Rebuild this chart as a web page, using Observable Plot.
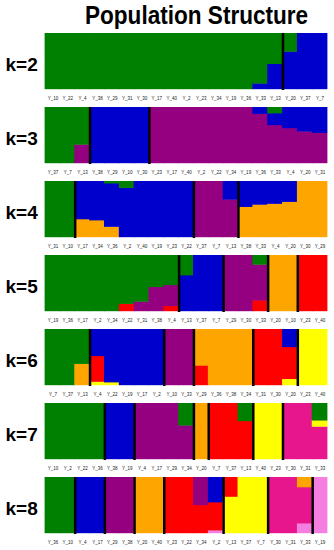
<!DOCTYPE html>
<html><head><meta charset="utf-8">
<script src="https://cdn.jsdelivr.net/npm/d3@7"></script>
<script src="https://cdn.jsdelivr.net/npm/@observablehq/plot@0.6"></script>
<style>
body{margin:0;background:#fff;width:334px;overflow:hidden}
#title{position:relative;height:33px}
#title span{position:absolute;left:85px;top:3.4px;font:bold 25.5px/25.5px "Liberation Sans",Arial,sans-serif;transform:scaleX(0.885);transform-origin:0 0;white-space:nowrap;color:#000}
#chart svg{display:block}
</style></head><body>
<div id="title"><span>Population Structure</span></div>
<div id="chart"></div>
<script>
const clusterColors = ["#008000", "#0000cc", "#940080", "#ffa500", "#ff0000", "#ffff00", "#e8168c", "#f47fe0"];

const ids2 = ["Y_10","Y_22","Y_4","Y_38","Y_29","Y_31","Y_30","Y_17","Y_40","Y_2","Y_23","Y_34","Y_19","Y_36","Y_33","Y_13","Y_20","Y_37","Y_7"];
const ids3 = ["Y_37","Y_7","Y_13","Y_38","Y_29","Y_10","Y_30","Y_23","Y_17","Y_40","Y_2","Y_22","Y_34","Y_19","Y_36","Y_33","Y_4","Y_20","Y_31"];
const ids4 = ["Y_31","Y_10","Y_17","Y_34","Y_36","Y_2","Y_40","Y_19","Y_23","Y_22","Y_37","Y_7","Y_13","Y_38","Y_33","Y_4","Y_20","Y_30","Y_29"];
const ids5 = ["Y_19","Y_36","Y_17","Y_2","Y_34","Y_22","Y_31","Y_38","Y_4","Y_13","Y_37","Y_7","Y_29","Y_30","Y_33","Y_20","Y_10","Y_23","Y_40"];
const ids6 = ["Y_7","Y_37","Y_13","Y_4","Y_22","Y_19","Y_17","Y_2","Y_10","Y_33","Y_29","Y_36","Y_38","Y_34","Y_31","Y_30","Y_20","Y_23","Y_40"];
const ids7 = ["Y_10","Y_2","Y_22","Y_36","Y_38","Y_19","Y_4","Y_17","Y_29","Y_34","Y_20","Y_7","Y_37","Y_13","Y_40","Y_23","Y_30","Y_31","Y_33"];
const ids8 = ["Y_36","Y_10","Y_4","Y_17","Y_29","Y_38","Y_20","Y_40","Y_23","Y_22","Y_34","Y_2","Y_13","Y_37","Y_7","Y_30","Y_31","Y_33","Y_19"];

// membership proportions per individual, clusters in order 1..k
const q2 = [[1,0],[1,0],[1,0],[1,0],[1,0],[1,0],[1,0],[1,0],[1,0],[1,0],[1,0],[1,0],[1,0],[1,0],
  [0.9,0.1],[0.55,0.45],[0.33,0.67],[0,1],[0,1]];
const q3 = [[1,0,0],[1,0,0],[0.67,0,0.33],[0,1,0],[0,1,0],[0,1,0],[0,1,0],
  [0,0,1],[0,0,1],[0,0,1],[0,0,1],[0,0,1],[0,0,1],[0,0,1],
  [0,0.12,0.88],[0.11,0.21,0.68],[0,0.375,0.625],[0,0.435,0.565],[0,0.46,0.54]];
const q4 = [[1,0,0,0],[1,0,0,0],[0,0.68,0,0.32],[0,0.7,0,0.3],[0.04,0.775,0,0.185],[0.12,0.88,0,0],
  [0,1,0,0],[0,1,0,0],[0,1,0,0],[0,1,0,0],[0,0,1,0],[0,0,1,0],[0,0.33,0.67,0],
  [0,0.46,0,0.54],[0,0.42,0,0.58],[0,0.405,0,0.595],[0,0.37,0,0.63],[0,0,0,1],[0,0,0,1]];
const q5 = [[1,0,0,0,0],[1,0,0,0,0],[1,0,0,0,0],[1,0,0,0,0],[1,0,0,0,0],[0.87,0,0,0,0.13],
  [0.83,0,0.17,0,0],[0.57,0,0.43,0,0],[0.535,0,0.375,0,0.09],[0.36,0.64,0,0,0],
  [0,1,0,0,0],[0,1,0,0,0],[0,0,1,0,0],[0,0,1,0,0],[0.17,0,0.64,0,0.19],
  [0,0,0,1,0],[0,0,0,1,0],[0,0,0,0,1],[0,0,0,0,1]];
const q6 = [[1,0,0,0,0,0],[1,0,0,0,0,0],[0.62,0,0,0.38,0,0],[0,0.48,0,0,0.46,0.06],[0,0.95,0,0,0,0.05],
  [0,1,0,0,0,0],[0,1,0,0,0,0],[0,1,0,0,0,0],[0,0,1,0,0,0],[0,0,1,0,0,0],
  [0,0,0,0.65,0.35,0],[0,0,0,1,0,0],[0,0,0,1,0,0],[0,0,0,1,0,0],
  [0,0,0,0,1,0],[0,0,0,0,1,0],[0,0.32,0,0,0.57,0.11],[0,0,0,0,0,1],[0,0,0,0,0,1]];
const q7 = [[1,0,0,0,0,0,0],[1,0,0,0,0,0,0],[1,0,0,0,0,0,0],[1,0,0,0,0,0,0],
  [0,1,0,0,0,0,0],[0,1,0,0,0,0,0],[0,0,1,0,0,0,0],[0,0,1,0,0,0,0],[0,0,1,0,0,0,0],[0.4,0,0.6,0,0,0,0],
  [0,0,0,1,0,0,0],[0,0,0,0,1,0,0],[0,0,0,0,1,0,0],[0.32,0,0,0,0.68,0,0],
  [0,0,0,0,0,1,0],[0,0,0,0,0,1,0],[0,0,0,0,0,0,1],[0,0,0,0,0,0,1],[0.31,0,0,0,0,0.11,0.58]];
const q8 = [[1,0,0,0,0,0,0,0],[1,0,0,0,0,0,0,0],[0,1,0,0,0,0,0,0],[0,1,0,0,0,0,0,0],
  [0,0,1,0,0,0,0,0],[0,0,1,0,0,0,0,0],[0,0,0,1,0,0,0,0],[0,0,0,1,0,0,0,0],
  [0,0,0,0,1,0,0,0],[0,0,0,0,1,0,0,0],[0,0,0.5,0,0.5,0,0,0],[0,0.45,0,0,0.5,0,0,0.05],
  [0,0,0,0,0.35,0.65,0,0],[0,0,0,0,0,1,0,0],[0,0,0,0,0,1,0,0],
  [0,0,0,0,0,0,1,0],[0,0,0,0,0,0,1,0],[0,0,0,0.18,0,0,0.645,0.175],[0,0,0,0,0,0,0,1]];

// population group boundaries (between individuals)
const breaks2 = [16];
const breaks3 = [3, 7];
const breaks4 = [2, 10, 13];
const breaks5 = [9, 12, 15, 17];
const breaks6 = [3, 8, 10, 14, 17];
const breaks7 = [4, 6, 10, 11, 14, 16];
const breaks8 = [2, 4, 6, 8, 12, 15, 18];

const panels = [
  {k: 2, ids: ids2, q: q2, breaks: breaks2},
  {k: 3, ids: ids3, q: q3, breaks: breaks3},
  {k: 4, ids: ids4, q: q4, breaks: breaks4},
  {k: 5, ids: ids5, q: q5, breaks: breaks5},
  {k: 6, ids: ids6, q: q6, breaks: breaks6},
  {k: 7, ids: ids7, q: q7, breaks: breaks7},
  {k: 8, ids: ids8, q: q8, breaks: breaks8}
];

const chart = document.getElementById("chart");
for (const p of panels) {
  const data = [];
  p.q.forEach((row, i) => {
    for (let c = row.length - 1; c >= 0; c--) if (row[c] > 0) data.push({i, c, v: row[c]});
  });
  const n = p.ids.length;
  const svg = Plot.plot({
    width: 334, height: 74,
    marginLeft: 45, marginRight: 7, marginTop: 0, marginBottom: 18,
    style: {fontFamily: "'Liberation Sans', Arial, sans-serif", background: "#fff"},
    x: {domain: [0, n], label: null},
    y: {domain: [0, 1], axis: null},
    marks: [
      Plot.rectY(data, {x: "i", interval: 1, y: "v", fill: d => clusterColors[d.c],
        inset: 0, insetLeft: -0.4, insetRight: -0.4, insetTop: -0.2, insetBottom: -0.2}),
      Plot.ruleX(p.breaks, {stroke: "#000", strokeWidth: 2.5, insetTop: -1, insetBottom: -1}),
      Plot.axisX({ticks: d3.range(n).map(i => i + 0.5), tickFormat: d => p.ids[Math.floor(d)],
        tickSize: 0, tickPadding: 7, fontSize: 4.5, fill: "#222", label: null}),
      Plot.text([`k=${p.k}`], {frameAnchor: "left", dx: -40, dy: 3, textAnchor: "start",
        fontSize: 19, fontWeight: "bold", fill: "#000"})
    ]
  });
  chart.appendChild(svg);
}
</script>
</body></html>
